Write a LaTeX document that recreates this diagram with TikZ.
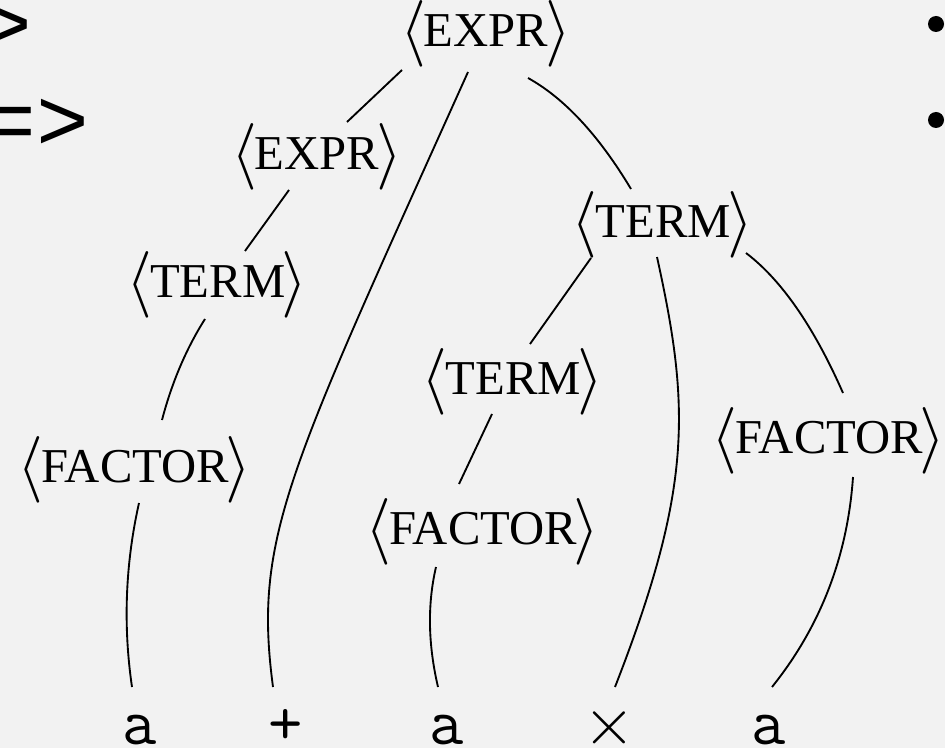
\RequirePackage{fix-cm}
\documentclass[tikz,border=0pt]{standalone}
\usepackage{fontspec}
\newfontfamily\arrowfont{Liberation Mono}
\newfontfamily\ntfont{Liberation Serif}
\definecolor{bg}{HTML}{F2F2F2}
\newcommand\ntbr[1]{\raisebox{-3pt}{\fontsize{50}{50}\selectfont$#1$}}
\newcommand\ntlabel[1]{\ntbr{\langle}\kern-1.5pt#1\kern-2.5pt\ntbr{\rangle}}
\tikzset{
  nt/.style={inner sep=0pt, anchor=base, font=\fontsize{36.5}{40}\selectfont\ntfont},
  leaf/.style={inner sep=0pt, anchor=base, font=\fontsize{50}{60}\selectfont\ttfamily},
  side/.style={inner sep=0pt, anchor=base west, font=\fontsize{66}{70}\selectfont\arrowfont},
  edge/.style={line width=1.4pt, black},
}
\begin{document}
\begin{tikzpicture}[x=0.75pt, y=-0.75pt]
  \fill[bg] (0,0) rectangle (945,748);
  \useasboundingbox (0,0) rectangle (945,748);
  % side texts (cut by page edge)
  \node[side] (s1) at (-21,54) {>};
  \node[side] (s2) at (-16.8,151) {=>};
  \fill (936,24) circle[radius=8];
  \fill (936,120) circle[radius=8];
  % nonterminals
  \node[nt] (e1) at (485.5,47) {\ntlabel{EXPR}};
  \node[nt] (e2) at (316.5,170) {\ntlabel{EXPR}};
  \node[nt] (t1) at (662.5,238) {\ntlabel{TERM}};
  \node[nt] (t2) at (217,298) {\ntlabel{TERM}};
  \node[nt] (t3) at (512.5,394) {\ntlabel{TERM}};
  \node[nt] (f1) at (482.5,544) {\ntlabel{FACTOR}};
  \node[nt] (f2) at (134.5,482) {\ntlabel{FACTOR}};
  \node[nt] (f3) at (828.5,453) {\ntlabel{FACTOR}};
  % leaves
  \node[leaf] (la) at (140,744) {a};
  \node[leaf] (lp) at (286,744) {+};
  \node[leaf] (lb) at (447,744) {a};
  \node[leaf] (lt) at (609,744) {$\times$};
  \node[leaf] (lc) at (769,744) {a};
  % connectors
  \draw[edge] ([shift={(-83.5,23)}]e1.base) -- ([shift={(30.5,-48)}]e2.base);
  \draw[edge] ([shift={(-17.5,25)}]e1.base) .. controls (288,472) and (253,537) .. ([shift={(-13,-57)}]lp.base);
  \draw[edge] ([shift={(42.5,31)}]e1.base) .. controls (564.4,98.2) and (598.7,135.2) .. ([shift={(-31.5,-49)}]t1.base);
  \draw[edge] ([shift={(-27.5,20)}]e2.base) -- ([shift={(28,-47)}]t2.base);
  \draw[edge] ([shift={(-12,21)}]t2.base) .. controls (186,349) and (171.7,383) .. ([shift={(27.5,-62)}]f2.base);
  \draw[edge] ([shift={(4.5,21)}]f2.base) .. controls (125.3,564) and (123,625.7) .. ([shift={(-8,-57)}]la.base);
  \draw[edge] ([shift={(-71.5,20)}]t1.base) -- ([shift={(17.5,-50)}]t3.base);
  \draw[edge] ([shift={(-5.5,19)}]t1.base) .. controls (690,407) and (693,487) .. ([shift={(6,-57)}]lt.base);
  \draw[edge] ([shift={(83.5,15)}]t1.base) .. controls (781.3,279.8) and (813.7,326.5) .. ([shift={(14.5,-60)}]f3.base);
  \draw[edge] ([shift={(-20.5,20)}]t3.base) -- ([shift={(-23.5,-60)}]f1.base);
  \draw[edge] ([shift={(-46.5,23)}]f1.base) .. controls (427.3,604.3) and (428,644.3) .. ([shift={(-9,-57)}]lb.base);
  \draw[edge] ([shift={(24.5,24)}]f3.base) .. controls (847.5,556.5) and (820.5,626.5) .. ([shift={(3,-57)}]lc.base);
\end{tikzpicture}
\end{document}
